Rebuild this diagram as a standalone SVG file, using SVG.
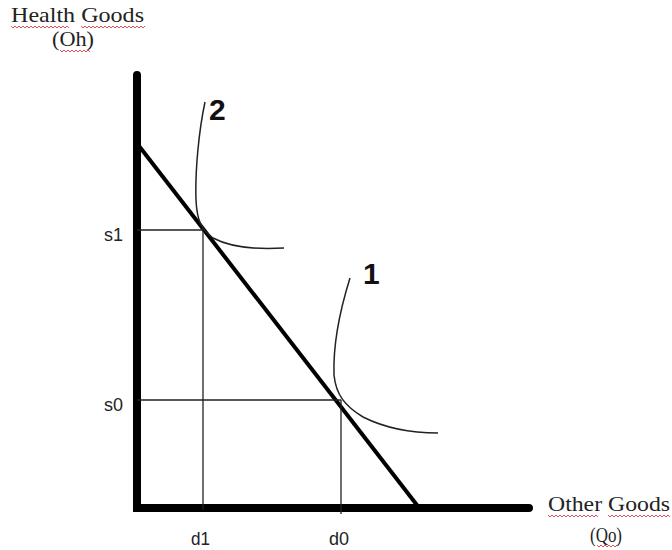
<svg xmlns="http://www.w3.org/2000/svg" width="672" height="550" viewBox="0 0 672 550">
<style>
.axis{stroke:#000;stroke-width:8;fill:none;stroke-linecap:round}
.budget{stroke:#000;stroke-width:4;fill:none}
.guide{stroke:#222;stroke-width:1.3;fill:none}
.curve{stroke:#222;stroke-width:1.5;fill:none}
.serif{font-family:"Liberation Serif","Times New Roman",serif;font-size:22px;fill:#222}
.lbl{font-family:"Liberation Sans",Arial,sans-serif;font-size:19px;fill:#222}
.num{font-family:"Liberation Sans",Arial,sans-serif;font-size:30px;font-weight:bold;fill:#111}
.squig{stroke:#d23;stroke-width:1;fill:none;opacity:0.8}
</style>
<rect width="672" height="550" fill="#fff"/>
<g id="axes">
<path class="axis" d="M137,75 V508 H529"/>
</g>
<g id="budget-line">
<path class="budget" d="M139,146 L420,509"/>
</g>
<g id="connectors">
<path class="guide" d="M137,230 H203 M203,230 V510"/>
<path class="guide" d="M137,400 H341 M341,400 V514"/>
</g>
<g id="curve-2">
<path class="curve" d="M205,102 C199,130 195,170 196,200 C197,222 202,230 213,238 C228,246 250,250 284,248"/>
<text class="num" x="209" y="120">2</text>
</g>
<g id="curve-1">
<path class="curve" d="M350,278 C340,310 333,345 334,375 C336,395 345,406 363,417 C385,428 410,433 438,433"/>
<text class="num" x="363" y="284">1</text>
</g>
<g id="labels">
<text class="serif" x="11" y="22" textLength="133" lengthAdjust="spacingAndGlyphs">Health Goods</text>
<text class="serif" x="52" y="46" textLength="42" lengthAdjust="spacingAndGlyphs">(Oh)</text>
<text class="serif" x="548" y="511" textLength="122" lengthAdjust="spacingAndGlyphs">Other Goods</text>
<text class="serif" x="590" y="542" textLength="32" lengthAdjust="spacingAndGlyphs">(Qo)</text>
<text class="lbl" x="104" y="241" textLength="19" lengthAdjust="spacingAndGlyphs">s1</text>
<text class="lbl" x="104" y="411" textLength="19" lengthAdjust="spacingAndGlyphs">s0</text>
<text class="lbl" x="191" y="545" textLength="19" lengthAdjust="spacingAndGlyphs">d1</text>
<text class="lbl" x="329" y="545" textLength="20" lengthAdjust="spacingAndGlyphs">d0</text>
</g>
<g id="spell-marks">
<path class="squig" d="M11,26 l2,2 l2,-2 l2,2 l2,-2 l2,2 l2,-2 l2,2 l2,-2 l2,2 l2,-2 l2,2 l2,-2 l2,2 l2,-2 l2,2 l2,-2 l2,2 l2,-2 l2,2 l2,-2 l2,2 l2,-2 l2,2 l2,-2 l2,2 l2,-2 l2,2 l2,-2 l2,2 M81,26 l2,2 l2,-2 l2,2 l2,-2 l2,2 l2,-2 l2,2 l2,-2 l2,2 l2,-2 l2,2 l2,-2 l2,2 l2,-2 l2,2 l2,-2 l2,2 l2,-2 l2,2 l2,-2 l2,2 l2,-2 l2,2 l2,-2 l2,2 l2,-2 l2,2 l2,-2 l2,2 l2,-2 l2,2 l2,-2"/>
<path class="squig" d="M60,50 l2,2 l2,-2 l2,2 l2,-2 l2,2 l2,-2 l2,2 l2,-2 l2,2 l2,-2 l2,2 l2,-2 l2,2 l2,-2 l2,2"/>
<path class="squig" d="M548,515 l2,2 l2,-2 l2,2 l2,-2 l2,2 l2,-2 l2,2 l2,-2 l2,2 l2,-2 l2,2 l2,-2 l2,2 l2,-2 l2,2 l2,-2 l2,2 l2,-2 l2,2 l2,-2 l2,2 l2,-2 l2,2 l2,-2 l2,2 M608,515 l2,2 l2,-2 l2,2 l2,-2 l2,2 l2,-2 l2,2 l2,-2 l2,2 l2,-2 l2,2 l2,-2 l2,2 l2,-2 l2,2 l2,-2 l2,2 l2,-2 l2,2 l2,-2 l2,2 l2,-2 l2,2 l2,-2 l2,2 l2,-2 l2,2 l2,-2 l2,2 l2,-2 l2,2"/>
<path class="squig" d="M597,545 l2,2 l2,-2 l2,2 l2,-2 l2,2 l2,-2 l2,2 l2,-2 l2,2 l2,-2"/>
</g>
</svg>
